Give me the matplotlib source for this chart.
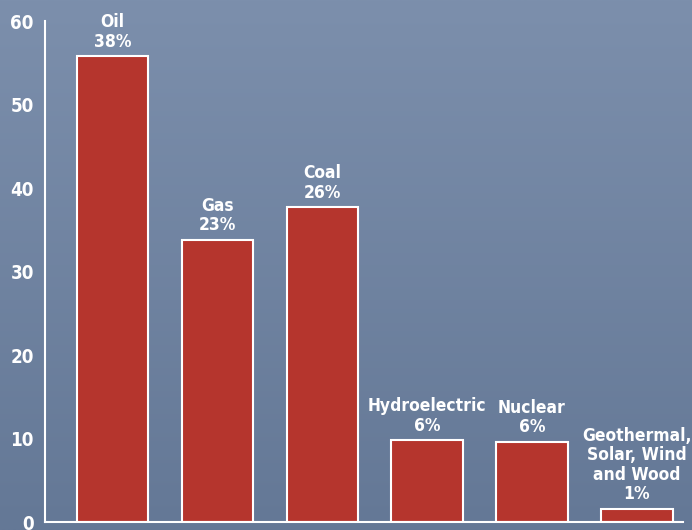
import numpy as np
import matplotlib.pyplot as plt
from matplotlib import font_manager

sources = ['Oil', 'Gas', 'Coal', 'Hydroelectric', 'Nuclear',
           'Geothermal,\nSolar, Wind\nand Wood']
values = [55.8, 33.8, 37.7, 9.8, 9.6, 1.6]
shares = ['38%', '23%', '26%', '6%', '6%', '1%']

names = {f.name for f in font_manager.fontManager.ttflist}
narrow = [n for n in ['Liberation Sans Narrow', 'DejaVu Sans'] if n in names]
plt.rcParams['font.family'] = narrow
plt.rcParams['font.stretch'] = 'condensed'

fig = plt.figure(figsize=(6.92, 5.30), dpi=100)

# background gradient
bg = fig.add_axes([0, 0, 1, 1], zorder=0)
grad = np.linspace(0, 1, 256).reshape(-1, 1)
top = np.array([124, 143, 172]) / 255
bot = np.array([100, 120, 150]) / 255
img = top + (bot - top) * grad[:, :, None]
bg.imshow(img, aspect='auto', extent=[0, 1, 0, 1])
bg.axis('off')

ax = fig.add_axes([0.065, 0.015, 0.922, 0.945], zorder=1)
ax.patch.set_alpha(0)
x = np.arange(len(sources))
bars = ax.bar(x, values, width=0.68, color='#b5352d', edgecolor='white', linewidth=1.5)

for b, name, pct in zip(bars, sources, shares):
    ax.annotate(f'{name}\n{pct}', (b.get_x() + b.get_width() / 2, b.get_height()),
                xytext=(0, 4), textcoords='offset points', ha='center', va='bottom',
                color='white', fontsize=12.5, fontweight='bold', linespacing=1.1)

ax.set_xlim(-0.644, 5.44)
ax.set_ylim(0, 60)
ax.set_yticks(range(0, 61, 10))
ax.set_xticks([])
ax.tick_params(axis='y', length=0, pad=8, labelcolor='white', labelsize=13.5)
for lbl in ax.get_yticklabels():
    lbl.set_fontweight('bold')
for s in ['top', 'right']:
    ax.spines[s].set_visible(False)
for s in ['left', 'bottom']:
    ax.spines[s].set_color('white')
    ax.spines[s].set_linewidth(1.5)

fig.savefig('out.png', dpi=100)
